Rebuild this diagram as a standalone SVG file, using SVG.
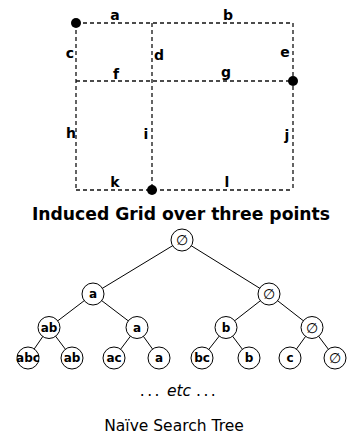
<svg xmlns="http://www.w3.org/2000/svg" width="351" height="434" viewBox="0 0 351 434">
  <style>
    .grid { stroke: #111; stroke-width: 1.3; stroke-dasharray: 4 3; fill: none; }
    .pt { fill: #000; }
    .lbl { font-family: "DejaVu Sans", "Liberation Sans", sans-serif; font-weight: bold; font-size: 14px; fill: #000; text-anchor: middle; dominant-baseline: central; }
    .edge { stroke: #000; stroke-width: 1; fill: none; }
    .node circle { fill: #fff; stroke: #000; stroke-width: 1; }
    .node text { font-family: "DejaVu Sans", "Liberation Sans", sans-serif; font-weight: bold; font-size: 12px; fill: #000; text-anchor: middle; dominant-baseline: central; }
    .node text.empty { font-weight: normal; font-size: 14px; }
    .title { font-family: "DejaVu Sans", "Liberation Sans", sans-serif; font-weight: bold; font-size: 17.2px; fill: #000; text-anchor: middle; }
    .caption { font-family: "DejaVu Sans", "Liberation Sans", sans-serif; font-size: 15.5px; fill: #000; text-anchor: middle; }
  </style>

  <!-- induced grid -->
  <g id="grid">
    <path class="grid" d="M76 23 H293 M76 81 H293 M76 190 H293 M76 23 V190 M152 23 V190 M293 23 V190"/>
    <circle class="pt" cx="76" cy="23" r="5"/>
    <circle class="pt" cx="293" cy="81" r="5"/>
    <circle class="pt" cx="152" cy="190" r="5"/>
    <text class="lbl" x="115" y="15">a</text>
    <text class="lbl" x="228" y="15">b</text>
    <text class="lbl" x="70" y="53">c</text>
    <text class="lbl" x="159" y="55">d</text>
    <text class="lbl" x="285" y="52">e</text>
    <text class="lbl" x="116" y="74">f</text>
    <text class="lbl" x="226" y="72">g</text>
    <text class="lbl" x="71" y="133">h</text>
    <text class="lbl" x="146" y="134">i</text>
    <text class="lbl" x="287" y="135">j</text>
    <text class="lbl" x="115" y="182">k</text>
    <text class="lbl" x="227" y="182">l</text>
  </g>

  <text class="title" x="181" y="220">Induced Grid over three points</text>

  <!-- search tree edges -->
  <g id="connectors">
    <path class="edge" d="M182 240 L93 294 M182 240 L269 294"/>
    <path class="edge" d="M93 294 L49 327.5 M93 294 L137 327.5 M269 294 L226 327.5 M269 294 L312 327.5"/>
    <path class="edge" d="M49 327.5 L28 358 M49 327.5 L72 358 M137 327.5 L114 358 M137 327.5 L159 358"/>
    <path class="edge" d="M226 327.5 L202 358 M226 327.5 L249 358 M312 327.5 L290 358 M312 327.5 L335 358"/>
  </g>

  <!-- search tree nodes -->
  <g id="n-root" class="node"><circle cx="182" cy="240" r="11"/><text class="empty" x="182" y="240">∅</text></g>
  <g id="n-a" class="node"><circle cx="93" cy="294" r="11"/><text x="93" y="294">a</text></g>
  <g id="n-0" class="node"><circle cx="269" cy="294" r="11"/><text class="empty" x="269" y="294">∅</text></g>
  <g id="n-ab" class="node"><circle cx="49" cy="327.5" r="11"/><text x="49" y="327.5">ab</text></g>
  <g id="n-a2" class="node"><circle cx="137" cy="327.5" r="11"/><text x="137" y="327.5">a</text></g>
  <g id="n-b" class="node"><circle cx="226" cy="327.5" r="11"/><text x="226" y="327.5">b</text></g>
  <g id="n-02" class="node"><circle cx="312" cy="327.5" r="11"/><text class="empty" x="312" y="327.5">∅</text></g>
  <g id="n-abc" class="node"><circle cx="28" cy="358" r="11"/><text x="28" y="358">abc</text></g>
  <g id="n-ab2" class="node"><circle cx="72" cy="358" r="11"/><text x="72" y="358">ab</text></g>
  <g id="n-ac" class="node"><circle cx="114" cy="358" r="11"/><text x="114" y="358">ac</text></g>
  <g id="n-a3" class="node"><circle cx="159" cy="358" r="11"/><text x="159" y="358">a</text></g>
  <g id="n-bc" class="node"><circle cx="202" cy="358" r="11"/><text x="202" y="358">bc</text></g>
  <g id="n-b2" class="node"><circle cx="249" cy="358" r="11"/><text x="249" y="358">b</text></g>
  <g id="n-c" class="node"><circle cx="290" cy="358" r="11"/><text x="290" y="358">c</text></g>
  <g id="n-03" class="node"><circle cx="335" cy="358" r="11"/><text class="empty" x="335" y="358">∅</text></g>

  <text class="caption" x="179" y="396"><tspan letter-spacing="2.5">...</tspan> <tspan font-style="italic">etc</tspan> <tspan letter-spacing="2.5">...</tspan></text>
  <text class="caption" x="174" y="431">Naïve Search Tree</text>
</svg>
